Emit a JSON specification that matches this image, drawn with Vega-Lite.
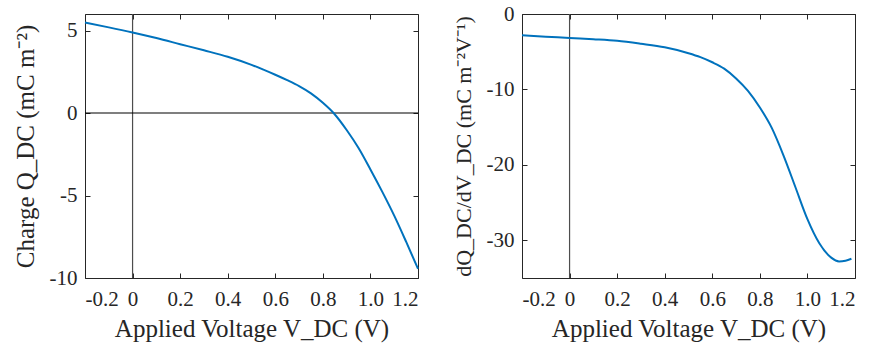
{
  "$schema": "https://vega.github.io/schema/vega-lite/v6.json",
  "padding": {"left": 12, "top": 2, "right": 2, "bottom": 2},
  "background": "white",
  "bounds": "flush",
  "spacing": 104,
  "config": {
    "view": {"stroke": "#262626", "strokeWidth": 1},
    "font": "Liberation Serif",
    "axis": {
      "domain": false,
      "grid": false,
      "ticks": true,
      "tickSize": 5,
      "offset": -5,
      "tickColor": "#262626",
      "tickWidth": 1,
      "labelFont": "Liberation Serif",
      "labelFontSize": 21,
      "labelColor": "#262626",
      "titleFont": "Liberation Serif",
      "titleFontSize": 25,
      "titleFontWeight": "normal",
      "titleColor": "#262626"
    },
    "axisX": {"titlePadding": 7, "labelPadding": 10},
    "axisY": {"titlePadding": 11, "labelPadding": 8}
  },
  "datasets": {
    "q": [
      {"V": -0.2, "Q": 5.48},
      {"V": -0.1, "Q": 5.19},
      {"V": 0.0, "Q": 4.88},
      {"V": 0.1, "Q": 4.54},
      {"V": 0.2, "Q": 4.17},
      {"V": 0.3, "Q": 3.8},
      {"V": 0.4, "Q": 3.41},
      {"V": 0.5, "Q": 2.92},
      {"V": 0.55, "Q": 2.63},
      {"V": 0.6, "Q": 2.32},
      {"V": 0.65, "Q": 1.99},
      {"V": 0.7, "Q": 1.63},
      {"V": 0.75, "Q": 1.19},
      {"V": 0.8, "Q": 0.62},
      {"V": 0.845, "Q": 0.0},
      {"V": 0.9, "Q": -1.03},
      {"V": 0.95, "Q": -2.12},
      {"V": 1.0, "Q": -3.42},
      {"V": 1.05, "Q": -4.78},
      {"V": 1.1, "Q": -6.22},
      {"V": 1.15, "Q": -7.8},
      {"V": 1.2, "Q": -9.44}
    ],
    "dq": [
      {"V": -0.2, "D": -2.83},
      {"V": -0.1, "D": -3.0},
      {"V": 0.0, "D": -3.18},
      {"V": 0.1, "D": -3.35},
      {"V": 0.2, "D": -3.56},
      {"V": 0.3, "D": -3.95},
      {"V": 0.4, "D": -4.42},
      {"V": 0.5, "D": -5.2},
      {"V": 0.55, "D": -5.72},
      {"V": 0.6, "D": -6.4},
      {"V": 0.65, "D": -7.25},
      {"V": 0.7, "D": -8.55},
      {"V": 0.75, "D": -10.2},
      {"V": 0.8, "D": -12.4},
      {"V": 0.85, "D": -15.1},
      {"V": 0.9, "D": -18.8},
      {"V": 0.95, "D": -23.0},
      {"V": 1.0, "D": -27.2},
      {"V": 1.05, "D": -30.4},
      {"V": 1.1, "D": -32.3},
      {"V": 1.133, "D": -32.8},
      {"V": 1.16, "D": -32.7},
      {"V": 1.185, "D": -32.45}
    ]
  },
  "hconcat": [
    {
      "width": 333,
      "height": 264,
      "layer": [
        {
          "data": {"values": [{}]},
          "mark": {"type": "rule", "color": "#4d4d4d", "strokeWidth": 1.2},
          "encoding": {"x": {"datum": 0, "type": "quantitative", "axis": null}}
        },
        {
          "data": {"values": [{}]},
          "mark": {"type": "rule", "color": "#000000", "strokeWidth": 1.2},
          "encoding": {"y": {"datum": 0, "type": "quantitative", "axis": null}}
        },
        {
          "data": {"name": "q"},
          "mark": {"type": "line", "color": "#0072BD", "strokeWidth": 2, "interpolate": "monotone"},
          "encoding": {
            "x": {
              "field": "V", "type": "quantitative",
              "scale": {"domain": [-0.2, 1.2], "nice": false, "zero": false},
              "axis": {
                "orient": "bottom",
                "values": [-0.2, 0, 0.2, 0.4, 0.6, 0.8, 1, 1.2],
                "labelExpr": "datum.value == 0 ? '0' : (datum.value < 0 ? '-' : '') + format(abs(datum.value), '.1f')",
                "title": "Applied Voltage V_DC (V)"
              }
            },
            "y": {
              "field": "Q", "type": "quantitative",
              "scale": {"domain": [-10, 6], "nice": false, "zero": false},
              "axis": {
                "orient": "left",
                "values": [-10, -5, 0, 5],
                "labelExpr": "(datum.value < 0 ? '-' : '') + format(abs(datum.value), 'd')",
                "title": "Charge Q_DC (mC m⁻²)"
              }
            }
          }
        },
        {
          "data": {"name": "q"},
          "mark": {"type": "line", "strokeOpacity": 0},
          "encoding": {
            "x": {
              "field": "V", "type": "quantitative",
              "scale": {"domain": [-0.2, 1.2], "nice": false, "zero": false},
              "axis": {"orient": "top", "values": [-0.2, 0, 0.2, 0.4, 0.6, 0.8, 1, 1.2], "labels": false, "title": null, "labelPadding": 0, "minExtent": 0}
            },
            "y": {
              "field": "Q", "type": "quantitative",
              "scale": {"domain": [-10, 6], "nice": false, "zero": false},
              "axis": {"orient": "right", "values": [-10, -5, 0, 5], "labels": false, "title": null, "labelPadding": 0, "minExtent": 0}
            }
          }
        }
      ],
      "resolve": {"axis": {"x": "independent", "y": "independent"}}
    },
    {
      "width": 333,
      "height": 264,
      "layer": [
        {
          "data": {"values": [{}]},
          "mark": {"type": "rule", "color": "#4d4d4d", "strokeWidth": 1.2},
          "encoding": {"x": {"datum": 0, "type": "quantitative", "axis": null}}
        },
        {
          "data": {"name": "dq"},
          "mark": {"type": "line", "color": "#0072BD", "strokeWidth": 2, "interpolate": "monotone"},
          "encoding": {
            "x": {
              "field": "V", "type": "quantitative",
              "scale": {"domain": [-0.2, 1.2], "nice": false, "zero": false},
              "axis": {
                "orient": "bottom",
                "values": [-0.2, 0, 0.2, 0.4, 0.6, 0.8, 1, 1.2],
                "labelExpr": "datum.value == 0 ? '0' : (datum.value < 0 ? '-' : '') + format(abs(datum.value), '.1f')",
                "title": "Applied Voltage V_DC (V)"
              }
            },
            "y": {
              "field": "D", "type": "quantitative",
              "scale": {"domain": [-35, 0], "nice": false, "zero": false},
              "axis": {
                "orient": "left",
                "values": [-30, -20, -10, 0],
                "labelExpr": "(datum.value < 0 ? '-' : '') + format(abs(datum.value), 'd')",
                "title": "dQ_DC/dV_DC (mC m⁻²V⁻¹)",
                "titleFontSize": 22
              }
            }
          }
        },
        {
          "data": {"name": "dq"},
          "mark": {"type": "line", "strokeOpacity": 0},
          "encoding": {
            "x": {
              "field": "V", "type": "quantitative",
              "scale": {"domain": [-0.2, 1.2], "nice": false, "zero": false},
              "axis": {"orient": "top", "values": [-0.2, 0, 0.2, 0.4, 0.6, 0.8, 1, 1.2], "labels": false, "title": null, "labelPadding": 0, "minExtent": 0}
            },
            "y": {
              "field": "D", "type": "quantitative",
              "scale": {"domain": [-35, 0], "nice": false, "zero": false},
              "axis": {"orient": "right", "values": [-30, -20, -10, 0], "labels": false, "title": null, "labelPadding": 0, "minExtent": 0}
            }
          }
        }
      ],
      "resolve": {"axis": {"x": "independent", "y": "independent"}}
    }
  ]
}
